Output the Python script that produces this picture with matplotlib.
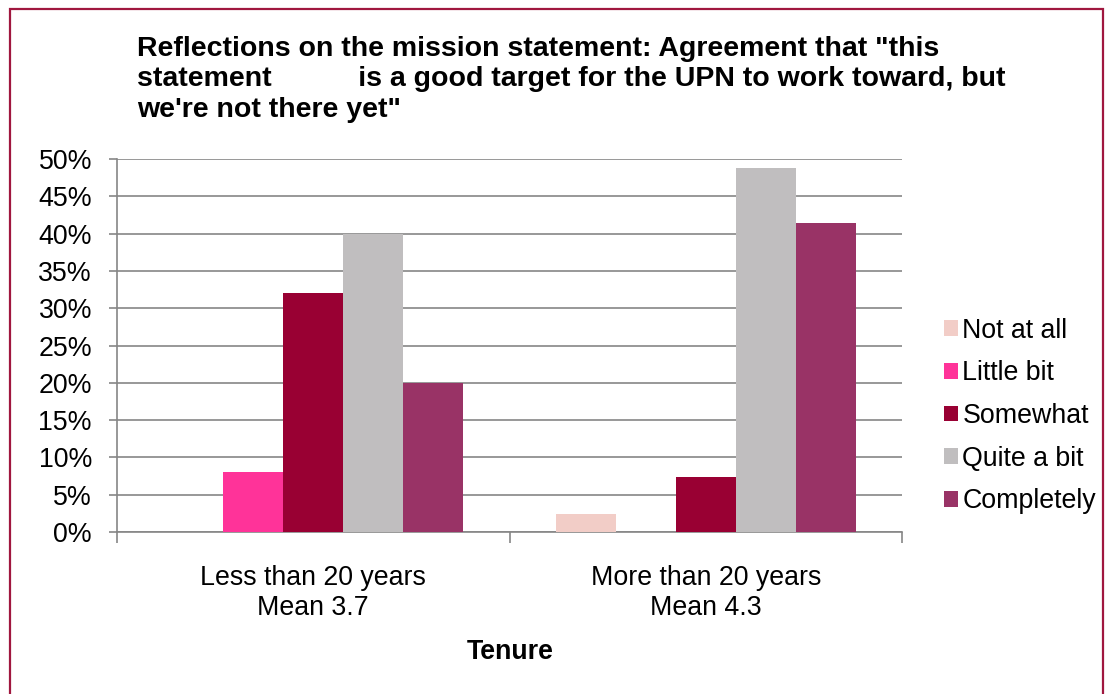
import matplotlib
matplotlib.use("Agg")
import matplotlib.pyplot as plt
from matplotlib.patches import Rectangle
from matplotlib.ticker import PercentFormatter
import numpy as np

# survey answers by tenure group (share of respondents, %)
groups = ["Less than 20 years\nMean 3.7", "More than 20 years\nMean 4.3"]
answers = ["Not at all", "Little bit", "Somewhat", "Quite a bit", "Completely"]
less_20 = [0.0, 8.0, 32.0, 40.0, 20.0]
more_20 = [2.44, 0.0, 7.32, 48.78, 41.46]
colors = ["#F2CDC7", "#FF3399", "#990033", "#C0BEBF", "#993366"]
yticks = [0, 5, 10, 15, 20, 25, 30, 35, 40, 45, 50]

title = ('Reflections on the mission statement: Agreement that "this\n'
         'statement           is a good target for the UPN to work toward, but\n'
         'we\'re not there yet"')

plt.rcParams["font.family"] = ["Liberation Sans", "DejaVu Sans"]
fs = 19.3

W, H = 1107, 694
fig = plt.figure(figsize=(W / 100, H / 100), dpi=100)
ax = fig.add_axes([117 / W, 1 - 532 / H, (902 - 117) / W, (532 - 159) / H])

x = np.arange(len(groups))
bw = 0.153
for i, name in enumerate(answers):
    vals = [less_20[i], more_20[i]]
    ax.bar(x + (i - 2) * bw, vals, width=bw, color=colors[i], label=name, zorder=3)

ax.set_xlim(-0.5, 1.5)
ax.set_ylim(0, 50)
ax.set_yticks(yticks)
ax.yaxis.set_major_formatter(PercentFormatter(decimals=0))
ax.grid(axis="y", color="#868686", lw=1.2, zorder=0)
ax.tick_params(axis="y", labelsize=fs, length=6, color="#868686", pad=12, width=1.2)

# category boundaries get the tick marks, labels sit at the centres
ax.set_xticks([-0.5, 0.5, 1.5])
ax.set_xticklabels([])
ax.tick_params(axis="x", which="major", length=8, color="#868686", width=1.2)
ax.set_xticks(x, minor=True)
ax.set_xticklabels(groups, minor=True, linespacing=1.2)
ax.tick_params(axis="x", which="minor", length=0, labelsize=fs, pad=24)

for s in ["top", "right"]:
    ax.spines[s].set_visible(False)
for s in ["left", "bottom"]:
    ax.spines[s].set_color("#868686")
    ax.spines[s].set_linewidth(1.2)

fig.text(137 / W, 1 - 36 / H, title, ha="left", va="top", fontsize=20.5,
         fontweight="bold", linespacing=1.22)
fig.text(510 / W, 1 - 652 / H, "Tenure", ha="center", va="center",
         fontsize=fs, fontweight="bold")

ax.legend(loc="center left", bbox_to_anchor=(944 / W, 1 - 416 / H),
          bbox_transform=fig.transFigure, frameon=False, fontsize=fs,
          borderpad=0, borderaxespad=0,
          handlelength=0.52, handleheight=0.52, handletextpad=0.17,
          labelspacing=0.62)

fig.patches.append(Rectangle((10 / W, -0.02), (1103 - 10) / W, 1 - 9 / H + 0.02,
                             transform=fig.transFigure, fill=False,
                             edgecolor="#A0173F", lw=1.6))

fig.savefig("out.png", dpi=100)
